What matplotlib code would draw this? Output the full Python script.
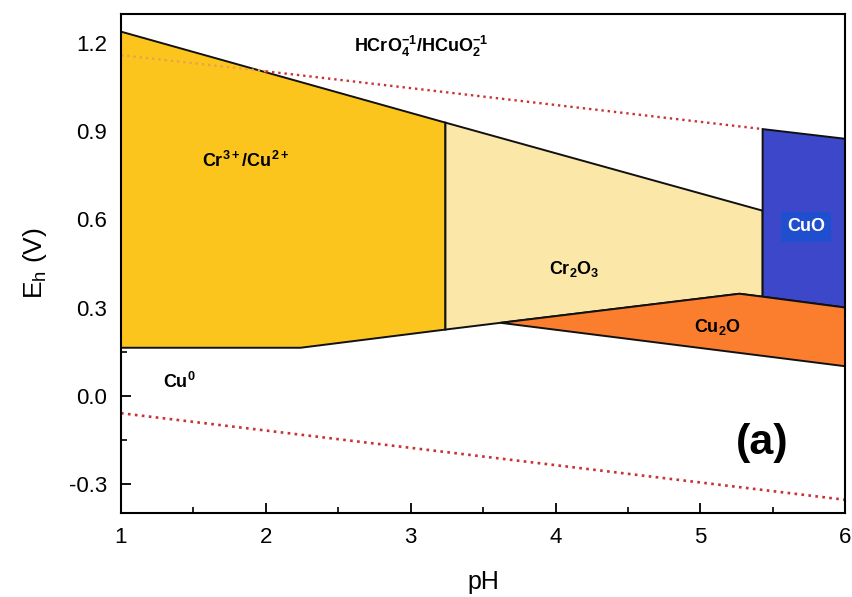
import matplotlib
matplotlib.use("Agg")
import matplotlib.pyplot as plt
from matplotlib.patches import Polygon
from matplotlib.ticker import MultipleLocator

plt.rcParams['font.family'] = ['Liberation Sans', 'DejaVu Sans']
plt.rcParams['mathtext.default'] = 'regular'

# region boundaries (pH, Eh)
cr_cu_ph = [1.0, 3.24, 3.24, 2.24, 1.0]
cr_cu_e = [1.24, 0.93, 0.225, 0.163, 0.163]

cr2o3_ph = [3.24, 5.43, 5.43, 5.27, 3.62, 3.24]
cr2o3_e = [0.93, 0.63, 0.337, 0.347, 0.248, 0.225]

cuo_ph = [5.43, 6.0, 6.0, 5.43]
cuo_e = [0.908, 0.875, 0.30, 0.337]

cu2o_ph = [3.62, 5.27, 5.43, 6.0, 6.0]
cu2o_e = [0.248, 0.347, 0.337, 0.30, 0.10]

# water stability lines (dotted)
upper_ph = [1.0, 2.0, 5.43]
upper_e = [1.16, 1.105, 0.908]
lower_ph = [1.0, 6.0]
lower_e = [-0.06, -0.355]

fig = plt.figure(figsize=(8.52, 5.97), dpi=100)
ax = fig.add_axes([0.142, 0.1407, 0.85, 0.8358])

regions = [
    (cr_cu_ph, cr_cu_e, '#FCC51E'),
    (cr2o3_ph, cr2o3_e, '#FBE7A7'),
    (cuo_ph, cuo_e, '#3D47C9'),
    (cu2o_ph, cu2o_e, '#FA7E2E'),
]
for ph, e, col in regions:
    poly = Polygon(list(zip(ph, e)), closed=True, facecolor=col,
                   edgecolor='#111111', linewidth=1.4, zorder=2)
    ax.add_patch(poly)

# upper dotted line: faint over the yellow field, red elsewhere
ax.plot(upper_ph[:2], upper_e[:2], ':', color='#EBA050', lw=1.7, zorder=3)
ax.plot(upper_ph[1:], upper_e[1:], ':', color='#C83232', lw=1.7, zorder=3)
ax.plot(lower_ph, lower_e, ':', color='#C83232', lw=1.9, zorder=3)

lab = dict(fontsize=13, fontweight='bold', ha='center', va='center', zorder=5)
ax.text(1.86, 0.80, r'Cr$^{3+}$/Cu$^{2+}$', **lab)
ax.text(4.13, 0.43, r'Cr$_2$O$_3$', **lab)
ax.text(5.12, 0.235, r'Cu$_2$O', **lab)
ax.text(1.40, 0.045, r'Cu$^0$', **lab)
ax.text(3.07, 1.19, r'HCrO$_4^{-1}$/HCuO$_2^{-1}$', **lab)
ax.text(5.73, 0.575, 'CuO', color='white', fontsize=13, fontweight='bold',
        ha='center', va='center', zorder=5,
        bbox=dict(boxstyle='square,pad=0.35', facecolor='#1F4FCF', edgecolor='none'))
ax.text(5.43, -0.16, '(a)', fontsize=31, fontweight='bold',
        ha='center', va='center', zorder=5)

ax.set_xlim(1, 6)
ax.set_ylim(-0.4, 1.3)
ax.xaxis.set_major_locator(MultipleLocator(1))
ax.xaxis.set_minor_locator(MultipleLocator(0.5))
ax.yaxis.set_minor_locator(MultipleLocator(0.15))
ax.set_yticks([-0.3, 0.0, 0.3, 0.6, 0.9, 1.2])
ax.set_yticklabels(['-0.3', '0.0', '0.3', '0.6', '0.9', '1.2'])
ax.tick_params(which='major', direction='in', length=7, width=1.3,
               labelsize=16, pad=10)
ax.tick_params(which='minor', direction='in', length=4, width=1.2)
for sp in ax.spines.values():
    sp.set_linewidth(1.5)
    sp.set_zorder(6)

ax.set_xlabel('pH', fontsize=18, labelpad=16)
ax.set_ylabel(r'E$_h$ (V)', fontsize=19, labelpad=14)

fig.savefig('out.png', dpi=100)
